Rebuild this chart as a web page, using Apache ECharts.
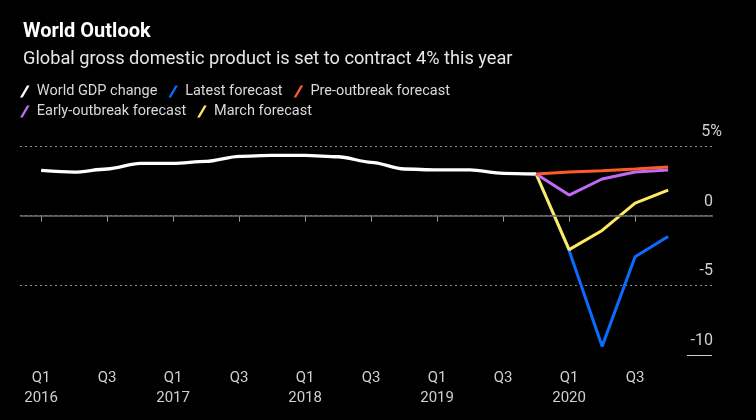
<!DOCTYPE html>
<html><head><meta charset="utf-8">
<script src="https://cdn.jsdelivr.net/npm/echarts@6/dist/echarts.min.js"></script>
<style>html,body{margin:0;padding:0;background:#000}#c{width:756px;height:420px}</style>
</head><body><div id="c"></div>
<script>
const quarters = ['Q1 2016','Q2 2016','Q3 2016','Q4 2016','Q1 2017','Q2 2017','Q3 2017','Q4 2017','Q1 2018','Q2 2018','Q3 2018','Q4 2018','Q1 2019','Q2 2019','Q3 2019','Q4 2019','Q1 2020','Q2 2020','Q3 2020','Q4 2020'];
const worldGDP = [3.25,3.13,3.35,3.75,3.75,3.9,4.26,4.33,4.33,4.23,3.83,3.35,3.28,3.28,3.04,2.99];
const forecastStart = 15; // Q4 2019
const latestForecast = [2.99,-2.5,-9.38,-2.95,-1.49];
const preOutbreak = [2.99,3.13,3.23,3.35,3.5];
const earlyOutbreak = [2.99,1.48,2.63,3.13,3.27];
const marchForecast = [2.99,-2.44,-1.06,0.9,1.83];
const yTicks = [-10,-5,0,5];

const FONT = 'Roboto, sans-serif';
const toPts = (arr, start) => arr.map((v,i)=>[start+i, v]);
const tickIdx = quarters.map((q,i)=>i).filter(i=>/Q1|Q3/.test(quarters[i]) && i<19);
const legendIcon = 'path://M0,10 L2.2,10 L8,0 L5.8,0 Z';

const chart = echarts.init(document.getElementById('c'));
const lineSeries = (name, data, color, extra) => Object.assign({
  name, type:'line', data, symbol:'none', lineStyle:{color, width:3}, itemStyle:{color}, animation:false
}, extra||{});
const legendBase = {left:20, padding:0, itemWidth:10, itemHeight:12, itemGap:11, icon:legendIcon,
  textStyle:{color:'#d9d9d9', fontSize:14.5, fontFamily:FONT, padding:[0,0,0,2]}};

chart.setOption({
  backgroundColor:'#000',
  animation:false,
  title:{
    text:'World Outlook',
    subtext:'Global gross domestic product is set to contract 4% this year',
    left:18, top:17, itemGap:8,
    textStyle:{color:'#fff', fontSize:20, fontWeight:'bold', fontFamily:FONT},
    subtextStyle:{color:'#e6e6e6', fontSize:18.2, fontFamily:FONT}
  },
  legend:[
    Object.assign({data:['World GDP change','Latest forecast','Pre-outbreak forecast'], top:84}, legendBase),
    Object.assign({data:['Early-outbreak forecast','March forecast'], top:104}, legendBase)
  ],
  grid:{left:20, right:43, top:146, bottom:65},
  xAxis:{
    type:'value', min:-0.64, max:20.36,
    axisLine:{show:false},
    splitLine:{show:false},
    axisTick:{show:true, length:6, lineStyle:{color:'#9a9a9a'}, customValues:tickIdx},
    axisLabel:{customValues:tickIdx, color:'#cfcfcf', fontSize:15, lineHeight:20, margin:13, fontFamily:FONT,
      formatter:v=>{const q=quarters[Math.round(v)].split(' '); return q[0]==='Q1' ? q[0]+'\n'+q[1] : q[0]+'\n ';}}
  },
  yAxis:{
    type:'value', position:'right', min:-10, max:5, interval:5,
    axisLine:{show:false}, axisTick:{show:false},
    splitLine:{show:true, showMinLine:false, lineStyle:{color:'#8a8a8a', type:[2,3], width:1}},
    axisLabel:{inside:true, margin:-9, color:'#cfcfcf', fontSize:16, fontFamily:FONT, verticalAlign:'bottom', padding:[0,0,6,0],
      formatter:v=> v===5 ? '5%' : '{n|'+v+'}',
      rich:{n:{padding:[0,9,0,0], fontSize:16, color:'#cfcfcf', fontFamily:FONT}}}
  },
  series:[
    lineSeries('World GDP change', toPts(worldGDP,0), '#ffffff', {smooth:0.3, smoothMonotone:'x', lineStyle:{color:'#fff', width:3.3},
      markLine:{silent:true, symbol:'none', label:{show:false}, animation:false,
        data:[
          {yAxis:0, lineStyle:{color:'#6e6e6e', type:'solid', width:1.5}},
          [{coord:[19.57,-10], lineStyle:{color:'#cfcfcf', type:'solid', width:1}},{coord:[20.33,-10]}]
        ]}}),
    lineSeries('Latest forecast', toPts(latestForecast,forecastStart), '#0a6cff'),
    lineSeries('March forecast', toPts(marchForecast,forecastStart), '#ffe95c'),
    lineSeries('Early-outbreak forecast', toPts(earlyOutbreak,forecastStart), '#c06af5'),
    lineSeries('Pre-outbreak forecast', toPts(preOutbreak,forecastStart), '#ff5a2a')
  ]
});
</script></body></html>
